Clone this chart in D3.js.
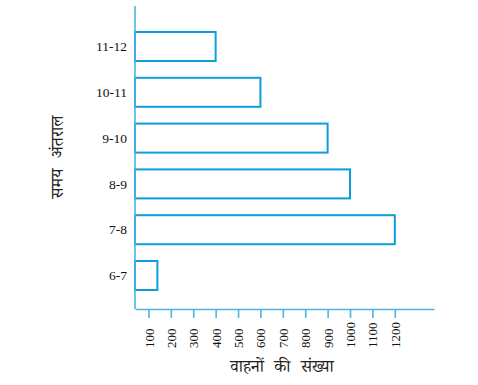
<!DOCTYPE html>
<html><head><meta charset="utf-8">
<script src="https://cdn.jsdelivr.net/npm/d3@7/dist/d3.min.js"></script>
<style>body{margin:0;background:#fff}</style>
</head><body>
<script>
const categories = ["6-7","7-8","8-9","9-10","10-11","11-12"];
const vehicles = [140, 1200, 1000, 900, 600, 400];
const tickValues = [100,200,300,400,500,600,700,800,900,1000,1100,1200];
const xTitle = "वाहनों की संख्या";
const yTitle = "समय अंतराल";

const W = 478, H = 385;
const axisColor = "#4fb3e3", barColor = "#0a9fd8";
const serif = "'Liberation Serif', 'Times New Roman', Times, serif";
const svg = d3.select("body").append("svg").attr("width", W).attr("height", H);

const x = d3.scaleLinear().domain([40, 1375]).range([135, 434]);
const y = d3.scaleBand().domain(categories).range([298.4, 23.6]).paddingInner(0.367).paddingOuter(0.183);
const axisY = 309;

// bars
svg.selectAll("rect.bar").data(categories).join("rect")
  .attr("class","bar")
  .attr("x", x(40)).attr("y", d => y(d))
  .attr("width", (d,i) => x(vehicles[i]) - x(40))
  .attr("height", y.bandwidth())
  .attr("fill","none").attr("stroke", barColor).attr("stroke-width", 2);

// y axis line
svg.append("line").attr("x1",135).attr("x2",135).attr("y1",6).attr("y2",axisY)
  .attr("stroke",axisColor).attr("stroke-width",1.6);

// x axis
const xAxis = svg.append("g").attr("transform",`translate(0,${axisY})`)
  .call(d3.axisBottom(x).tickValues(tickValues).tickSize(9).tickSizeOuter(0).tickFormat(d3.format("d")));
xAxis.select(".domain").attr("stroke",axisColor).attr("stroke-width",1.6);
xAxis.selectAll(".tick line").attr("stroke",axisColor).attr("stroke-width",1.6);
xAxis.selectAll(".tick text")
  .attr("transform","rotate(-90)")
  .attr("x",-39).attr("y",0).attr("dy","0.35em")
  .attr("text-anchor","start")
  .style("font-family",serif)
  .style("font-size","13px").attr("fill","#111");

// y labels
svg.selectAll("text.ylab").data(categories).join("text")
  .attr("class","ylab")
  .attr("x",127).attr("y", d => y(d) + y.bandwidth()/2)
  .attr("dy","0.35em").attr("text-anchor","end")
  .style("font-family",serif)
  .style("font-size","13.5px").attr("fill","#111").text(d => d);

// titles
const hindiFont = "'Noto Serif Devanagari','Noto Sans Devanagari','Lohit Devanagari','Mangal',serif";
svg.append("text").attr("x",282).attr("y",372).attr("text-anchor","middle")
  .style("font-family",hindiFont).style("font-size","17px").style("word-spacing","6px")
  .attr("fill","#222").text(xTitle);
svg.append("text").attr("transform","translate(63,157) rotate(-90)").attr("text-anchor","middle")
  .style("font-family",hindiFont).style("font-size","17px").style("word-spacing","6px")
  .attr("fill","#222").text(yTitle);
</script>
</body></html>
